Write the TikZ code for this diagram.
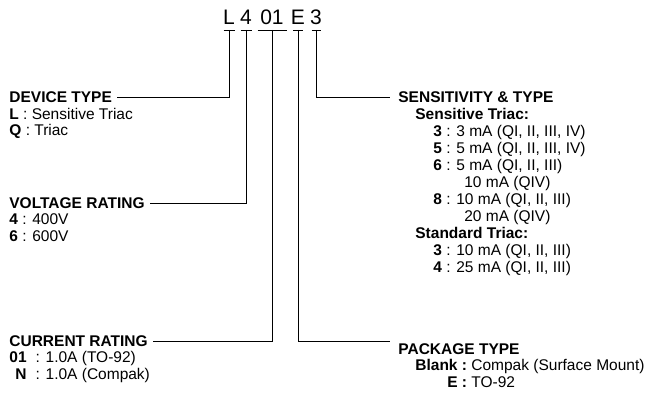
\documentclass[tikz,border=0pt]{standalone}
\usepackage{fontspec}
\setmainfont{Liberation Sans}
\begin{document}
\begin{tikzpicture}
[x=1pt, y=-1pt, line width=0.8pt,
 code/.style={inner sep=0pt, font=\fontsize{21}{21}\selectfont},
 head/.style={anchor=west, inner xsep=5pt, inner ysep=0pt, font=\fontsize{15.5}{16}\selectfont\bfseries},
 list/.style={anchor=base west, inner sep=0pt, font=\fontsize{15.5}{16.5}\selectfont}]
\useasboundingbox (0,0) rectangle (654,393);
\node [code] (cL) at (229,17) {L};
\node [code] (c4) at (246,17) {4};
\node [code] (c01) at (272,17) {01};
\node [code] (cE) at (298,17) {E};
\node [code] (c3) at (316,17) {3};
\coordinate (bL) at (229,30);
\coordinate (b4) at (246,30);
\coordinate (b01) at (272,30);
\coordinate (bE) at (298,30);
\coordinate (b3) at (316,30);
\draw ([xshift=-5.5pt]bL) -- ([xshift=5.5pt]bL);
\draw ([xshift=-5.5pt]b4) -- ([xshift=5.5pt]b4);
\draw ([xshift=-14.5pt]b01) -- ([xshift=14.5pt]b01);
\draw ([xshift=-5pt]bE) -- ([xshift=5pt]bE);
\draw ([xshift=-4.5pt]b3) -- ([xshift=4.5pt]b3);
\node [head] (devtype) at (4,97) {DEVICE TYPE};
\node [list] (devlist) at (9,119.5) {\begin{tabular}[t]{@{}l@{}}
\textbf{L} : Sensitive Triac\\
\textbf{Q} : Triac\end{tabular}};
\node [head] (voltrate) at (4,203) {VOLTAGE RATING};
\node [list] (voltlist) at (9,225) {\begin{tabular}[t]{@{}l@{}}
\textbf{4} : 400V\\
\textbf{6} : 600V\end{tabular}};
\node [head] (currate) at (4,341) {CURRENT RATING};
\node [list] (curlist) at (9,362.5) {\begin{tabular}[t]{@{}r@{}l@{}}
\textbf{01} & \hspace{9pt}: 1.0A (TO-92)\\
\textbf{N} & \hspace{9pt}: 1.0A (Compak)\end{tabular}};
\node [head, inner xsep=8pt] (senstype) at (390,97) {SENSITIVITY \& TYPE};
\node [list, font=\fontsize{15.5}{17}\selectfont] (senslist) at (415,119.5) {\begin{tabular}[t]{@{}l@{}}
\textbf{Sensitive Triac:}\\
\hspace{18pt}\textbf{3} : 3 mA (QI, II, III, IV)\\
\hspace{18pt}\textbf{5} : 5 mA (QI, II, III, IV)\\
\hspace{18pt}\textbf{6} : 5 mA (QI, II, III)\\
\hspace{18pt}\phantom{\textbf{6} : }\hspace{8pt}10 mA (QIV)\\
\hspace{18pt}\textbf{8} : 10 mA (QI, II, III)\\
\hspace{18pt}\phantom{\textbf{8} : }\hspace{8pt}20 mA (QIV)\\
\textbf{Standard Triac:}\\
\hspace{18pt}\textbf{3} : 10 mA (QI, II, III)\\
\hspace{18pt}\textbf{4} : 25 mA (QI, II, III)\end{tabular}};
\node [head, inner xsep=8pt] (pkgtype) at (390,349) {PACKAGE TYPE};
\node [list] (pkglist) at (415,370.5) {\begin{tabular}[t]{@{}r@{}l@{}}
\textbf{Blank :} & \ Compak (Surface Mount)\\
\textbf{E :} & \ TO-92\end{tabular}};
\draw (bL) |- (devtype.east);
\draw (b4) |- (voltrate.east);
\draw (b01) |- (currate.east);
\draw (b3) |- (senstype.west);
\draw (bE) |- ([yshift=8pt]pkgtype.west);
\end{tikzpicture}
\end{document}
